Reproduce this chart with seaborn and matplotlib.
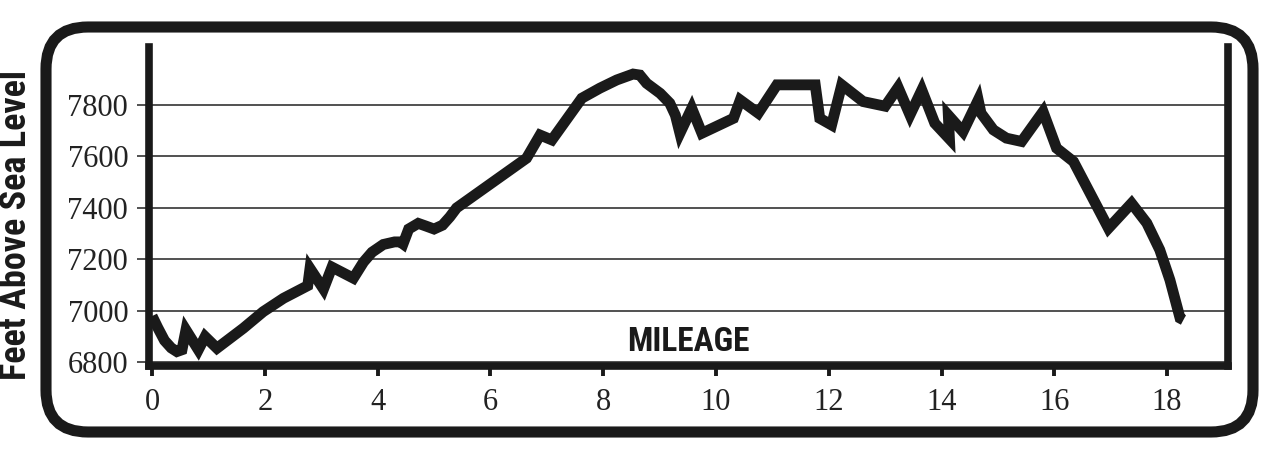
import matplotlib
matplotlib.use("Agg")
import matplotlib.pyplot as plt
from matplotlib import font_manager
from matplotlib.patches import FancyBboxPatch
import seaborn as sns
import pandas as pd

sns.set_style("white")

# mileage / elevation
mileage = [0.0, 0.1, 0.22, 0.34, 0.44, 0.53, 0.6, 0.82, 0.94, 1.15, 1.62, 1.97, 2.33, 2.62,
           2.76, 2.80, 3.04, 3.19, 3.57, 3.75, 3.90, 4.10, 4.30, 4.40, 4.45, 4.55,
           4.72, 4.85, 5.0, 5.15, 5.28, 5.40, 6.64, 6.88, 7.09, 7.62, 7.94, 8.24,
           8.53, 8.65, 8.77, 9.01, 9.18, 9.28, 9.36, 9.57, 9.75, 10.31, 10.43, 10.75,
           11.08, 11.76, 11.84, 12.05, 12.23, 12.61, 13.0, 13.23, 13.44, 13.65, 13.88,
           14.14, 14.12, 14.38, 14.65, 14.70, 14.92, 15.15, 15.42, 15.80, 16.04, 16.34,
           16.96, 17.37, 17.64, 17.87, 18.05, 18.23, 18.29]
elevation = [6980, 6935, 6885, 6856, 6842, 6849, 6926, 6849, 6900, 6855, 6933, 6997, 7049, 7082,
             7098, 7165, 7085, 7170, 7127, 7190, 7228, 7258, 7268, 7268, 7260, 7318,
             7340, 7330, 7318, 7333, 7365, 7400, 7593, 7683, 7664, 7826, 7865, 7897,
             7920, 7916, 7884, 7845, 7807, 7760, 7690, 7787, 7690, 7748, 7819, 7768,
             7878, 7878, 7748, 7722, 7878, 7813, 7795, 7868, 7761, 7858, 7729,
             7668, 7760, 7696, 7819, 7768, 7703, 7671, 7658, 7774, 7632, 7580,
             7321, 7418, 7341, 7237, 7120, 6972, 6965]

yticks = [6800, 7000, 7200, 7400, 7600, 7800]
xticks = [0, 2, 4, 6, 8, 10, 12, 14, 16, 18]

df = pd.DataFrame({"mileage": mileage, "elevation": elevation})

# pick a narrow heavy sans if one is installed
installed = {f.name for f in font_manager.fontManager.ttflist}
narrow = "DejaVu Sans"
for cand in ["Liberation Sans Narrow", "DejaVu Sans Condensed", "Roboto Condensed",
             "Open Sans Condensed", "Noto Sans Display", "Arial Narrow"]:
    if cand in installed:
        narrow = cand
        break
condensed = narrow == "DejaVu Sans"

fig = plt.figure(figsize=(12.8, 4.58), dpi=100)

# rounded frame, drawn in pixel units so the corners stay circular
bg = fig.add_axes([0, 0, 1, 1])
bg.set_xlim(0, 1280)
bg.set_ylim(458, 0)
bg.axis("off")
bg.add_patch(FancyBboxPatch((46, 27), 1207, 405,
                            boxstyle="round,pad=0,rounding_size=42",
                            fc="white", ec="#1a1a1a", lw=8))

ax = fig.add_axes([149 / 1280, 1 - 366 / 458, (1228 - 149) / 1280, (366 - 47) / 458])
ax.patch.set_alpha(0)

sns.lineplot(data=df, x="mileage", y="elevation", ax=ax, color="#1a1a1a",
             lw=7.8, sort=False, solid_joinstyle="miter", solid_capstyle="butt")

ax.set_xlim(-0.055, 19.08)
ax.set_ylim(6786, 8025)
ax.set_yticks(yticks)
ax.set_xticks(xticks)
ax.yaxis.grid(True, color="#222222", lw=1.1)
ax.set_axisbelow(True)

for s in ["left", "bottom", "right"]:
    ax.spines[s].set_visible(True)
    ax.spines[s].set_color("#1a1a1a")
    ax.spines[s].set_linewidth(5.5)
ax.spines["top"].set_visible(False)

ax.tick_params(axis="y", direction="out", length=9, width=1.1, color="#222222",
               pad=6, left=True)
ax.tick_params(axis="x", direction="out", length=7, width=2.8, color="#1a1a1a",
               pad=9, bottom=True)
for lab in ax.get_xticklabels() + ax.get_yticklabels():
    lab.set_fontfamily(["Liberation Serif", "DejaVu Serif"])
    lab.set_fontsize(22)
    lab.set_color("#222222")

ax.set_xlabel("")
ax.set_ylabel("")
stretch = "condensed" if condensed else "normal"
ax.text(0.5, 0.075, "MILEAGE", transform=ax.transAxes, ha="center", va="center",
        fontsize=21 if condensed else 24, fontweight="bold", color="#1a1a1a",
        family=[narrow], fontstretch=stretch)

fig.text(16 / 1280, 1 - 225 / 458, "Feet Above Sea Level", rotation=90,
         ha="center", va="center", fontsize=18.5 if condensed else 26,
         fontweight="bold", color="#1a1a1a", family=[narrow], fontstretch=stretch)

fig.savefig("out.png", dpi=100)
